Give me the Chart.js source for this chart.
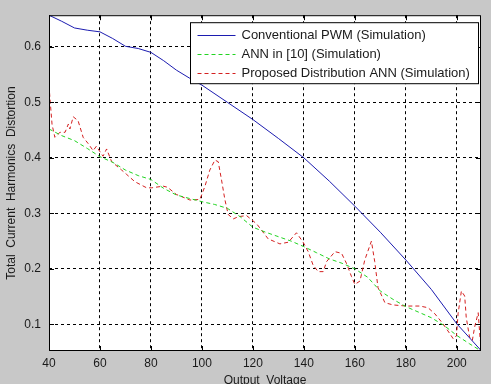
<!DOCTYPE html>
<html><head><meta charset="utf-8">
<script src="https://cdn.jsdelivr.net/npm/chart.js@4/dist/chart.umd.min.js"></script>
<style>html,body{margin:0;padding:0;background:#c8c8c8;}canvas{display:block}</style>
</head><body>
<canvas id="c" width="491" height="384"></canvas>
<script>
const xTicks = [40, 60, 80, 100, 120, 140, 160, 180, 200];
const yTicks = [0.1, 0.2, 0.3, 0.4, 0.5, 0.6];
const seriesLabels = ['Conventional PWM (Simulation)', 'ANN in [10] (Simulation)', 'Proposed Distribution ANN (Simulation)'];

const pwmX = [40, 45, 50, 55, 60, 65, 70, 75, 80, 85, 90, 95, 100, 110, 120, 130, 140, 150, 160, 170, 180, 190, 200, 209.5];
const pwmY = [0.657, 0.646, 0.634, 0.630, 0.627, 0.615, 0.601, 0.597, 0.590, 0.575, 0.558, 0.544, 0.531, 0.500, 0.469, 0.435, 0.400, 0.358, 0.313, 0.266, 0.216, 0.163, 0.101, 0.053];

const annX = [40, 45, 50, 55, 60, 65, 70, 75, 80, 85, 90, 95, 100, 105, 110, 115, 120, 125, 130, 135, 140, 145, 150, 155, 160, 165, 170, 175, 180, 185, 190, 195, 200, 205, 209.5];
const annY = [0.452, 0.440, 0.431, 0.417, 0.402, 0.392, 0.378, 0.368, 0.361, 0.345, 0.333, 0.327, 0.321, 0.316, 0.309, 0.294, 0.275, 0.266, 0.258, 0.250, 0.240, 0.229, 0.218, 0.210, 0.200, 0.185, 0.160, 0.145, 0.132, 0.122, 0.112, 0.098, 0.080, 0.065, 0.052];

const propX = [40, 40.5, 41.2, 42.3, 44.3, 46.3, 47.6, 48.2, 49.5, 51.4, 53.4, 55.5, 57.3, 58.6, 60, 61.2, 62.6, 64.6, 68.5, 70.5, 73.7, 78.3, 80.3, 84.8, 86.5, 90, 95.3, 99.2, 101.2, 103.1, 105.1, 106.4, 107.7, 109, 110.3, 112.3, 114.3, 117.5, 121.5, 126, 130.6, 133.9, 137.1, 139.7, 141.7, 143.6, 145.6, 147.6, 148.9, 152.2, 154.8, 156.7, 158.7, 160, 162, 163.9, 166.5, 167.8, 169.1, 171.8, 175, 180.2, 185.5, 188.7, 191.4, 194.6, 197.3, 198.6, 199.9, 200.5, 201.8, 203.1, 203.7, 205, 206.1, 207, 208.4, 209.2];
const propY = [0.530, 0.500, 0.460, 0.437, 0.446, 0.446, 0.461, 0.452, 0.474, 0.467, 0.437, 0.425, 0.413, 0.421, 0.411, 0.403, 0.416, 0.393, 0.378, 0.370, 0.357, 0.346, 0.346, 0.349, 0.347, 0.334, 0.324, 0.325, 0.349, 0.378, 0.396, 0.393, 0.360, 0.325, 0.298, 0.290, 0.294, 0.296, 0.281, 0.254, 0.245, 0.248, 0.265, 0.248, 0.231, 0.207, 0.195, 0.195, 0.213, 0.231, 0.228, 0.210, 0.186, 0.172, 0.178, 0.216, 0.250, 0.213, 0.166, 0.139, 0.135, 0.133, 0.133, 0.130, 0.119, 0.101, 0.083, 0.074, 0.080, 0.119, 0.160, 0.151, 0.113, 0.077, 0.071, 0.095, 0.121, 0.071];

const pts = (xs, ys) => xs.map((x, i) => ({x: x, y: ys[i]}));
const FONT = 'Liberation Sans, Arial, sans-serif';
const TXT = '#1a1a1a';

const framePlugin = {
  id: 'frame',
  beforeDraw(chart) {
    const {ctx, chartArea: a} = chart;
    ctx.save();
    ctx.fillStyle = '#c8c8c8';
    ctx.fillRect(0, 0, chart.width, chart.height);
    ctx.fillStyle = '#ffffff';
    ctx.fillRect(a.left, a.top, a.right - a.left, a.bottom - a.top);
    ctx.restore();
  },
  afterDatasetsDraw(chart) {
    const {ctx, chartArea: a, scales} = chart;
    ctx.save();
    ctx.strokeStyle = '#000';
    ctx.lineWidth = 1;
    ctx.setLineDash([]);
    const L = 5;
    ctx.beginPath();
    xTicks.forEach(v => {
      const p = Math.round(scales.x.getPixelForValue(v)) + 0.5;
      ctx.moveTo(p, a.bottom); ctx.lineTo(p, a.bottom - L);
      ctx.moveTo(p, a.top); ctx.lineTo(p, a.top + L);
    });
    yTicks.forEach(v => {
      const p = Math.round(scales.y.getPixelForValue(v)) + 0.5;
      ctx.moveTo(a.left, p); ctx.lineTo(a.left + L, p);
      ctx.moveTo(a.right, p); ctx.lineTo(a.right - L, p);
    });
    ctx.stroke();
    // legend
    ctx.font = '13px ' + FONT;
    let tw = 0;
    chart.data.datasets.forEach(d => { tw = Math.max(tw, ctx.measureText(d.label).width); });
    const bw = Math.round(7 + 38 + 6 + tw + 9);
    const bx = Math.round(a.right - 3 - bw) + 0.5;
    const by = a.top + 7.5;
    const bh = 61;
    ctx.fillStyle = '#fff';
    ctx.fillRect(bx, by, bw, bh);
    ctx.strokeRect(bx, by, bw, bh);
    chart.data.datasets.forEach((d, i) => {
      const yy = Math.round(by + 12 + i * 19) + 0.5;
      ctx.strokeStyle = d.borderColor;
      ctx.setLineDash(d.borderDash || []);
      ctx.beginPath();
      ctx.moveTo(bx + 7, yy); ctx.lineTo(bx + 45, yy);
      ctx.stroke();
      ctx.setLineDash([]);
      ctx.fillStyle = TXT;
      ctx.textBaseline = 'middle';
      ctx.textAlign = 'left';
      ctx.fillText(d.label, bx + 51, yy);
    });
    ctx.strokeStyle = '#000';
    ctx.strokeRect(a.left + 0.5, a.top + 0.5, a.right - a.left - 1, a.bottom - a.top - 1);
    ctx.restore();
  }
};

new Chart(document.getElementById('c'), {
  type: 'line',
  data: {
    datasets: [
      {label: seriesLabels[0], data: pts(pwmX, pwmY), borderColor: '#1c1cb0', borderWidth: 1, pointRadius: 0, tension: 0},
      {label: seriesLabels[1], data: pts(annX, annY), borderColor: '#22d422', borderWidth: 1, borderDash: [4, 3], pointRadius: 0, tension: 0},
      {label: seriesLabels[2], data: pts(propX, propY), borderColor: '#d42020', borderWidth: 1, borderDash: [4, 3], pointRadius: 0, tension: 0}
    ]
  },
  options: {
    responsive: false,
    animation: false,
    layout: {padding: {left: 0, top: 9, right: 10, bottom: 0}},
    plugins: {legend: {display: false}, tooltip: {enabled: false}},
    scales: {
      x: {
        type: 'linear', min: 40, max: 209.5,
        afterBuildTicks: s => { s.ticks = xTicks.map(v => ({value: v})); },
        afterFit: s => { s.height = 33; },
        ticks: {font: {family: FONT, size: 12}, color: TXT, padding: 5, maxRotation: 0, autoSkip: false, callback: v => String(v)},
        grid: {color: '#000', lineWidth: 1, drawTicks: false},
        border: {display: false, dash: [3, 3]},
        title: {display: true, text: 'Output  Voltage', font: {family: FONT, size: 12}, color: TXT, padding: {top: 0, bottom: -4}}
      },
      y: {
        type: 'linear', min: 0.052, max: 0.657,
        afterBuildTicks: s => { s.ticks = yTicks.map(v => ({value: v})); },
        afterFit: s => { s.width = 49; },
        ticks: {font: {family: FONT, size: 12}, color: TXT, padding: 8, callback: v => v.toFixed(1)},
        grid: {color: '#000', lineWidth: 1, drawTicks: false},
        border: {display: false, dash: [3, 3]},
        title: {display: true, text: 'Total  Current  Harmonics  Distortion', font: {family: FONT, size: 12}, color: TXT, padding: {top: 4, bottom: 4}}
      }
    }
  },
  plugins: [framePlugin]
});
</script>
</body></html>
